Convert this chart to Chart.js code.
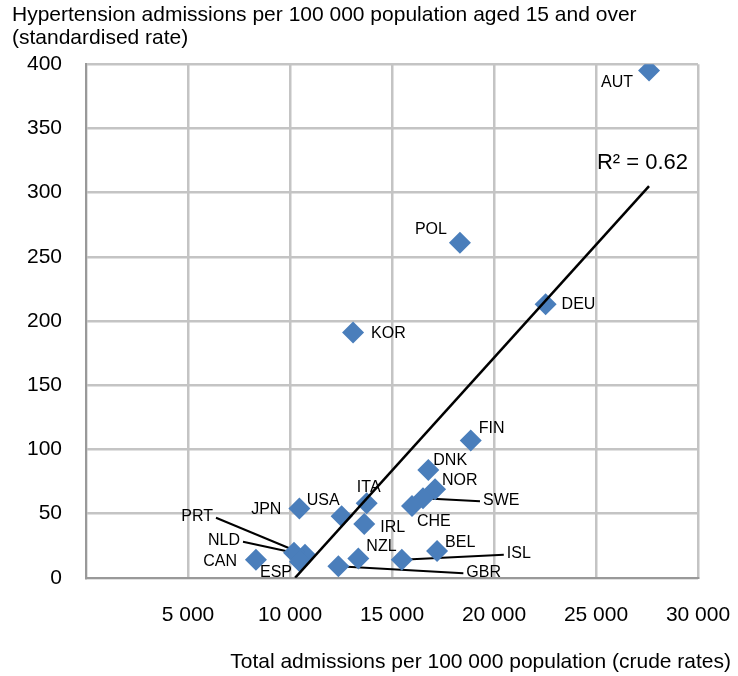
<!DOCTYPE html>
<html>
<head>
<meta charset="utf-8">
<script src="https://cdn.jsdelivr.net/npm/chart.js@4"></script>
<style>
    html, body { margin: 0; padding: 0; background: #fff; }
    #wrap { width: 738px; height: 676px; }
</style>
</head>
<body>
<div id="wrap"><canvas id="scatterChart" width="738" height="676"></canvas></div>
<script>
// Chart values
const countries = ['AUT', 'POL', 'DEU', 'KOR', 'FIN', 'DNK', 'NOR', 'SWE', 'CHE', 'ITA', 'USA',
    'JPN', 'IRL', 'PRT', 'NLD', 'ESP', 'CAN', 'NZL', 'GBR', 'ISL', 'BEL'];
const totalAdmissions = [27600, 18330, 22530, 13090, 18860, 16780, 17110, 16520, 15980, 13760, 12530,
    10460, 13640, 10735, 10196, 10490, 8330, 13350, 12370, 15480, 17210];
const hypertensionAdmissions = [395, 261, 213, 191, 107, 84, 69, 62, 56, 58, 48,
    54, 42, 18, 19.5, 12.5, 14, 15, 9, 14, 21];
const trendX = [10250, 27600];
const trendY = [0, 305];
const rSquaredText = 'R² = 0.62';
const yTicks = [0, 50, 100, 150, 200, 250, 300, 350, 400];
const xTicks = [0, 5000, 10000, 15000, 20000, 25000, 30000];

// Label placement (pixel offsets from each point)
const labelSpots = {
    AUT: { dx: -16, dy: 12, align: 'right' },
    POL: { dx: -13, dy: -13, align: 'right' },
    DEU: { dx: 16, dy: 0, align: 'left' },
    KOR: { dx: 18, dy: 1, align: 'left' },
    FIN: { dx: 8, dy: -12, align: 'left' },
    DNK: { dx: 5, dy: -9, align: 'left' },
    NOR: { dx: 7, dy: -9, align: 'left' },
    SWE: { dx: 60, dy: 2, align: 'left', leader: true },
    CHE: { dx: 5, dy: 16, align: 'left' },
    ITA: { dx: 2, dy: -16, align: 'center' },
    USA: { dx: -2, dy: -16, align: 'right' },
    JPN: { dx: -18, dy: 1, align: 'right' },
    IRL: { dx: 16, dy: 4, align: 'left' },
    PRT: { dx: -92, dy: -38, align: 'right', leader: true },
    NLD: { dx: -54, dy: -12, align: 'right', leader: true },
    ESP: { dx: -8, dy: 11, align: 'right' },
    CAN: { dx: -19, dy: 2, align: 'right' },
    NZL: { dx: 8, dy: -12, align: 'left' },
    GBR: { dx: 128, dy: 6, align: 'left', leader: true },
    ISL: { dx: 105, dy: -6, align: 'left', leader: true },
    BEL: { dx: 8, dy: -8, align: 'left' }
};

const FONT = "'Liberation Sans', Arial, sans-serif";

function spaced(value) {
    return String(value).replace(/\B(?=(\d{3})+(?!\d))/g, ' ');
}

function pointPixel(chart, i) {
    return {
        x: chart.scales.x.getPixelForValue(totalAdmissions[i]),
        y: chart.scales.y.getPixelForValue(hypertensionAdmissions[i])
    };
}

// Country labels, leader lines and R² text
const countryLabels = {
    id: 'countryLabels',
    beforeDatasetsDraw(chart) {
        const ctx = chart.ctx;
        ctx.save();
        ctx.strokeStyle = '#000';
        ctx.lineWidth = 2;
        countries.forEach((c, i) => {
            const s = labelSpots[c];
            if (!s || !s.leader) return;
            const p = pointPixel(chart, i);
            const tx = p.x + s.dx + (s.align === 'left' ? -3 : 3);
            ctx.beginPath();
            ctx.moveTo(tx, p.y + s.dy + 1);
            ctx.lineTo(p.x, p.y);
            ctx.stroke();
        });
        ctx.restore();
    },
    afterDatasetsDraw(chart) {
        const ctx = chart.ctx;
        ctx.save();
        ctx.fillStyle = '#000';
        ctx.font = '16px ' + FONT;
        ctx.textBaseline = 'middle';
        countries.forEach((c, i) => {
            const s = labelSpots[c];
            const p = pointPixel(chart, i);
            ctx.textAlign = s.align;
            ctx.fillText(c, p.x + s.dx, p.y + s.dy);
        });
        // R² next to the end of the trend line
        const ex = chart.scales.x.getPixelForValue(trendX[1]);
        const ey = chart.scales.y.getPixelForValue(trendY[1]);
        ctx.font = '22px ' + FONT;
        ctx.textAlign = 'right';
        ctx.fillText(rSquaredText, ex + 39, ey - 23);
        ctx.restore();
    }
};

const ctx = document.getElementById('scatterChart').getContext('2d');

new Chart(ctx, {
    type: 'scatter',
    data: {
        datasets: [
            {
                type: 'line',
                label: 'Trend',
                data: trendX.map((x, i) => ({ x: x, y: trendY[i] })),
                borderColor: '#000',
                borderWidth: 2.5,
                pointRadius: 0,
                fill: false,
                order: 0
            },
            {
                label: 'Countries',
                data: totalAdmissions.map((x, i) => ({ x: x, y: hypertensionAdmissions[i] })),
                pointStyle: 'rectRot',
                pointRadius: 11,
                backgroundColor: '#4a7ebb',
                borderColor: '#4a7ebb',
                borderWidth: 0,
                order: 1
            }
        ]
    },
    options: {
        responsive: false,
        animation: false,
        layout: { padding: { left: 12, right: 7, top: 0, bottom: 0 } },
        scales: {
            x: {
                type: 'linear',
                min: 0,
                max: 30000,
                afterBuildTicks: (scale) => { scale.ticks = xTicks.map(v => ({ value: v })); },
                afterFit: (scale) => {
                    scale.height = 50;
                    scale.paddingLeft = 0;
                    scale.paddingRight = 40;
                },
                ticks: {
                    padding: 25,
                    color: '#000',
                    font: { family: FONT, size: 21 },
                    maxRotation: 0,
                    callback: (value) => value === 0 ? '' : spaced(value)
                },
                grid: { color: '#c4c4c4', lineWidth: 2.5, drawTicks: false },
                border: { color: '#999', width: 2 }
            },
            y: {
                min: 0,
                max: 400,
                afterBuildTicks: (scale) => { scale.ticks = yTicks.map(v => ({ value: v })); },
                afterFit: (scale) => { scale.width = 74; },
                ticks: {
                    padding: 24,
                    color: '#000',
                    font: { family: FONT, size: 21 }
                },
                grid: { color: '#c4c4c4', lineWidth: 2.5, drawTicks: false },
                border: { color: '#999', width: 2 }
            }
        },
        plugins: {
            legend: { display: false },
            tooltip: { enabled: false },
            title: {
                display: true,
                align: 'start',
                text: ['Hypertension admissions per 100 000 population aged 15 and over', '(standardised rate)'],
                color: '#000',
                font: { family: FONT, size: 21, weight: 'normal', lineHeight: 1.1 },
                padding: { top: 4, bottom: 14 }
            },
            subtitle: {
                display: true,
                position: 'bottom',
                align: 'end',
                text: 'Total admissions per 100 000 population (crude rates)',
                color: '#000',
                font: { family: FONT, size: 21, weight: 'normal', lineHeight: 1.15 },
                padding: { top: 22, bottom: 2 }
            }
        }
    },
    plugins: [countryLabels]
});
</script>
</body>
</html>
